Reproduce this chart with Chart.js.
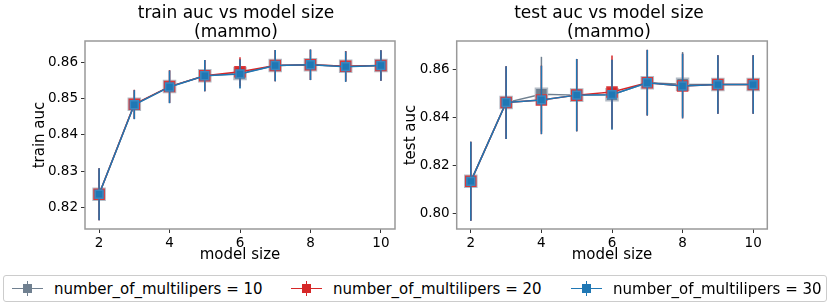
<!DOCTYPE html>
<html>
<head>
<meta charset="utf-8">
<script src="https://cdn.jsdelivr.net/npm/chart.js@4.4.1/dist/chart.umd.min.js"></script>
<style>
  body { margin: 0; background: #fff; font-family: 'DejaVu Sans', sans-serif; }
  #wrap { position: relative; width: 830px; height: 308px; overflow: hidden; }
  canvas { position: absolute; top: 0; }
  .title { position: absolute; width: 300px; text-align: center; font-size: 17px; line-height: 19px; color: #000; }
  #legend { position: absolute; left: 3px; top: 275px; width: 824px; height: 27px; box-sizing: border-box;
    border: 1px solid #ccc; border-radius: 3px; background: #fff; }
  .item { position: absolute; top: 0; height: 25px; display: flex; align-items: center; }
  .handle { position: relative; width: 31px; height: 15px; margin-right: 11px; }
  .handle .h { position: absolute; left: 0; right: 0; top: 6.75px; height: 1.5px; }
  .handle .v { position: absolute; top: 0; bottom: 0; left: 14.75px; width: 1.5px; }
  .handle .m { position: absolute; left: 11px; top: 3px; width: 9px; height: 9px; }
  .label { font-size: 15px; color: #000; white-space: nowrap; }
</style>
</head>
<body>
<div id="wrap">
  <canvas id="train-chart" width="415" height="272" style="left:0"></canvas>
  <canvas id="test-chart" width="430" height="272" style="left:400px"></canvas>
  <div class="title" style="left:86px;top:3px">train auc vs model size<br>(mammo)</div>
  <div class="title" style="left:459px;top:3px">test auc vs model size<br>(mammo)</div>
  <div id="legend"></div>
</div>
<script>
const modelSizes = [2, 3, 4, 5, 6, 7, 8, 9, 10];
const xTicks = [2, 4, 6, 8, 10];
const trainTicks = [0.82, 0.83, 0.84, 0.85, 0.86];
const testTicks = [0.80, 0.82, 0.84, 0.86];

const seriesNames = ['number_of_multilipers = 10', 'number_of_multilipers = 20', 'number_of_multilipers = 30'];

// train auc (mean, std)
const train10 = [0.8236, 0.8484, 0.8533, 0.8563, 0.8569, 0.8591, 0.8593, 0.8589, 0.8591];
const train20 = [0.8236, 0.8484, 0.8533, 0.8563, 0.8574, 0.8591, 0.8593, 0.8589, 0.8591];
const train30 = [0.8236, 0.8483, 0.8532, 0.8563, 0.8568, 0.8591, 0.8593, 0.8588, 0.8591];
const trainErr10 = [0.0072, 0.0040, 0.0045, 0.0043, 0.0040, 0.0043, 0.0042, 0.0042, 0.0042];
const trainErr20 = [0.0072, 0.0040, 0.0045, 0.0043, 0.0040, 0.0043, 0.0042, 0.0042, 0.0042];
const trainErr30 = [0.0072, 0.0040, 0.0045, 0.0043, 0.0040, 0.0043, 0.0042, 0.0042, 0.0042];

// test auc (mean, std)
const test10 = [0.8135, 0.8464, 0.8499, 0.8495, 0.8497, 0.8547, 0.8540, 0.8539, 0.8539];
const test20 = [0.8135, 0.8464, 0.8475, 0.8495, 0.8508, 0.8547, 0.8533, 0.8539, 0.8539];
const test30 = [0.8135, 0.8464, 0.8475, 0.8495, 0.8497, 0.8547, 0.8533, 0.8539, 0.8539];
const testErr10 = [0.0165, 0.0152, 0.0156, 0.0151, 0.0146, 0.0137, 0.0135, 0.0122, 0.0122];
const testErr20 = [0.0165, 0.0152, 0.0143, 0.0151, 0.0152, 0.0137, 0.0135, 0.0122, 0.0122];
const testErr30 = [0.0165, 0.0152, 0.0143, 0.0151, 0.0146, 0.0137, 0.0135, 0.0122, 0.0122];

const styles = [
  { line: '#708090', fill: '#708090', edge: '#b4bcc6', radius: 8.5, order: 3 },
  { line: '#d62728', fill: '#d62728', edge: '#d9383a', radius: 7.1, order: 2 },
  { line: '#1f77b4', fill: '#1f77b4', edge: '#3a88c0', radius: 5.6, order: 1 }
];

// error bars drawn just before each dataset so the stacking matches
const errorBars = {
  id: 'errorBars',
  beforeDatasetDraw(chart, args) {
    const ds = chart.data.datasets[args.index];
    if (!ds.err) return;
    const y = chart.scales.y;
    const ctx = chart.ctx;
    ctx.save();
    ctx.strokeStyle = ds.borderColor;
    ctx.lineWidth = 1.5;
    args.meta.data.forEach((pt, i) => {
      const v = ds.data[i].y;
      ctx.beginPath();
      ctx.moveTo(pt.x, y.getPixelForValue(v - ds.err[i]));
      ctx.lineTo(pt.x, y.getPixelForValue(v + ds.err[i]));
      ctx.stroke();
    });
    ctx.restore();
  }
};

const frame = {
  id: 'frame',
  afterDatasetsDraw(chart) {
    const a = chart.chartArea;
    const ctx = chart.ctx;
    ctx.save();
    ctx.strokeStyle = '#999';
    ctx.lineWidth = 1.5;
    ctx.strokeRect(a.left, a.top, a.right - a.left, a.bottom - a.top);
    ctx.restore();
  }
};

function makeDatasets(means, errs) {
  return means.map((m, k) => ({
    label: seriesNames[k],
    data: modelSizes.map((x, i) => ({ x, y: m[i] })),
    err: errs[k],
    borderColor: styles[k].line,
    borderWidth: 1.5,
    pointStyle: 'rect',
    pointRadius: styles[k].radius,
    pointBackgroundColor: styles[k].fill,
    pointBorderColor: styles[k].edge,
    pointBorderWidth: 1.5,
    tension: 0,
    order: styles[k].order
  }));
}

function makeChart(id, datasets, yTicks, yMin, yMax, yTitle, geo) {
  const tickFont = { family: 'DejaVu Sans', size: 13.5 };
  const titleFont = { family: 'DejaVu Sans', size: 15 };
  return new Chart(document.getElementById(id), {
    type: 'line',
    data: { datasets },
    plugins: [errorBars, frame],
    options: {
      responsive: false,
      animation: false,
      layout: { padding: { top: 41, right: geo.right, left: 0, bottom: 0 } },
      plugins: { legend: { display: false }, tooltip: { enabled: false } },
      scales: {
        x: {
          type: 'linear', min: 1.6, max: 10.4,
          afterBuildTicks: s => { s.ticks = xTicks.map(v => ({ value: v })); },
          afterFit: s => { s.height = 43; },
          border: { display: false },
          grid: { drawOnChartArea: false, tickLength: 4, color: '#333' },
          ticks: { font: tickFont, color: '#000', padding: 2, maxRotation: 0 },
          title: { display: true, text: 'model size', font: titleFont, color: '#000', padding: { top: 0, bottom: 8 } }
        },
        y: {
          min: yMin, max: yMax,
          afterBuildTicks: s => { s.ticks = yTicks.map(v => ({ value: v })); },
          afterFit: s => { s.width = geo.left; },
          border: { display: false },
          grid: { drawOnChartArea: false, tickLength: 4, color: '#333' },
          ticks: { font: tickFont, color: '#000', padding: 3, callback: v => v.toFixed(2) },
          title: { display: true, text: yTitle, font: titleFont, color: '#000', padding: { top: geo.titlePad, bottom: 0 } }
        }
      }
    }
  });
}

makeChart('train-chart', makeDatasets([train10, train20, train30], [trainErr10, trainErr20, trainErr30]),
  trainTicks, 0.81402, 0.86587, 'train auc', { left: 85, right: 20, titlePad: 31 });
makeChart('test-chart', makeDatasets([test10, test20, test30], [testErr10, testErr20, testErr30]),
  testTicks, 0.7936, 0.8721, 'test auc', { left: 56.7, right: 62.7, titlePad: 2 });

// legend
const legendX = [8, 287, 567];
document.getElementById('legend').innerHTML = seriesNames.map((name, k) => `
  <div class="item" style="left:${legendX[k]}px">
    <div class="handle">
      <div class="h" style="background:${styles[k].line}"></div>
      <div class="v" style="background:${styles[k].line}"></div>
      <div class="m" style="background:${styles[k].fill}"></div>
    </div>
    <span class="label">${name}</span>
  </div>`).join('');
</script>
</body>
</html>
